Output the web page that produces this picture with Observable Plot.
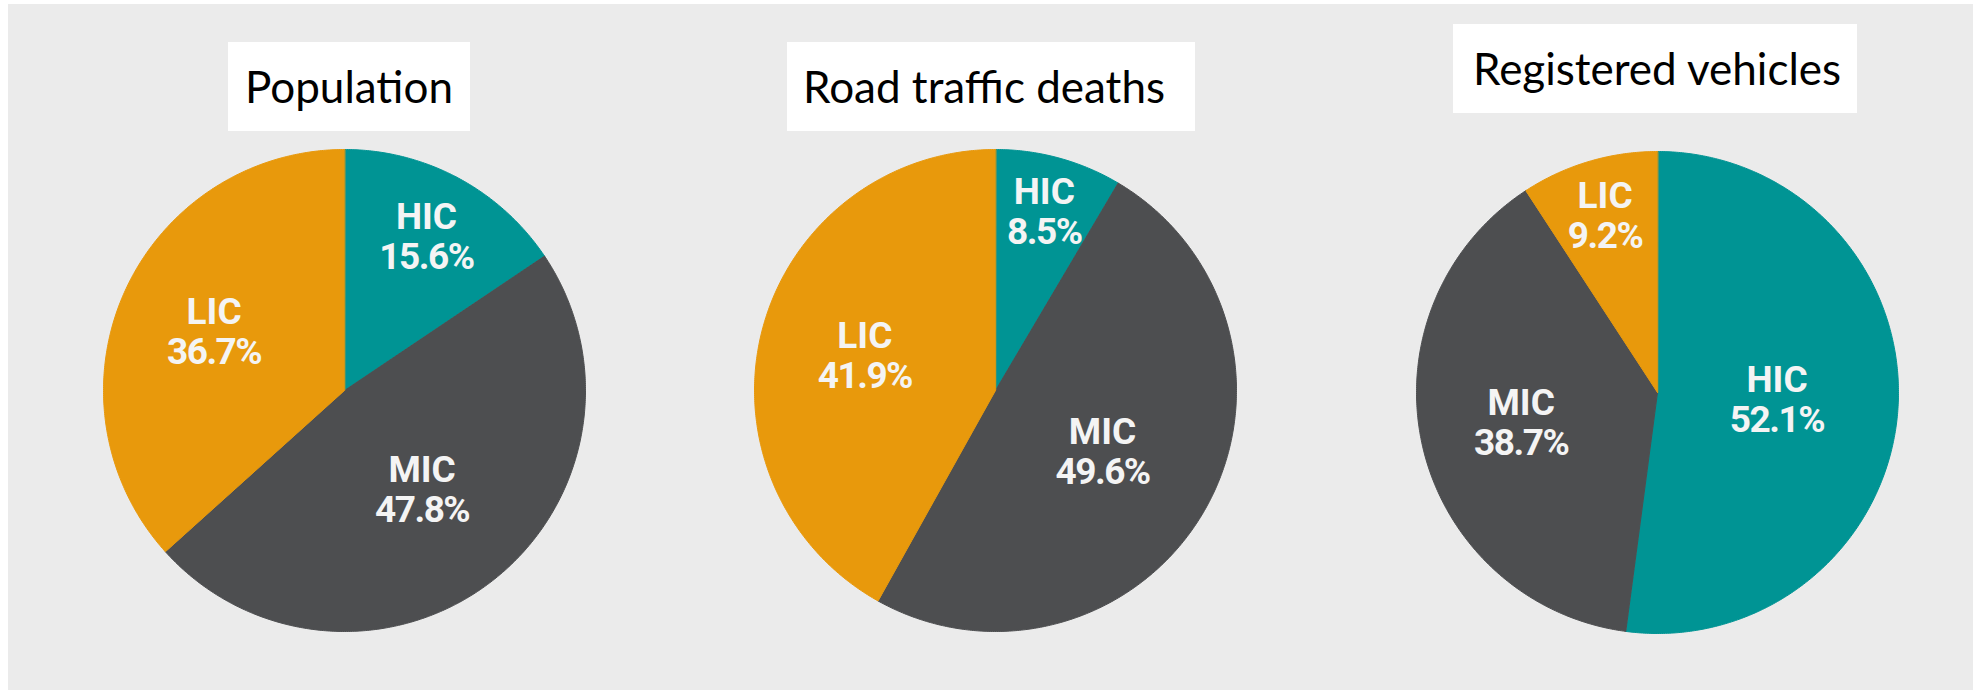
<!DOCTYPE html>
<html>
<head>
<meta charset="utf-8">
<script src="https://cdn.jsdelivr.net/npm/d3@7"></script>
<script src="https://cdn.jsdelivr.net/npm/@observablehq/plot@0.6"></script>
<style>
  html, body { margin: 0; padding: 0; background: #ffffff; }
  #stage { position: relative; width: 1981px; height: 690px; overflow: hidden; }
  #panel { position: absolute; left: 8px; top: 4px; width: 1965px; height: 690px; background: #ebebeb; }
  .title { position: absolute; background: #ffffff; color: #000000; font-family: Lato, "Open Sans", sans-serif;
           font-size: 44px; height: 89px; line-height: 89px; white-space: nowrap; box-sizing: border-box; }
  .pie { position: absolute; }
  .pie svg { overflow: visible; }
</style>
</head>
<body>
<div id="stage"><div id="panel"></div></div>
<script>
// ---- data ----
const chartTitles = ["Population", "Road traffic deaths", "Registered vehicles"];
const groups = ["HIC", "MIC", "LIC"];
const population = [15.6, 47.8, 36.7];
const roadDeaths = [8.5, 49.6, 41.9];
const vehicles = [52.1, 38.7, 9.2];
const seriesList = [population, roadDeaths, vehicles];

// ---- style / layout ----
const colors = ["#009494", "#4d4e50", "#e8990c"];
const layout = [
  {cx: 344, cy: 390, title: {left: 228, top: 42, width: 242, pad: 17}},
  {cx: 995, cy: 390, title: {left: 787, top: 42, width: 408, pad: 16}},
  {cx: 1657, cy: 392, title: {left: 1453, top: 24, width: 404, pad: 20}}
];
const R = 241, M = 9, SIZE = 2 * R + 2 * M;

function slicePoints(values) {
  const total = d3.sum(values);
  let acc = 0;
  const pts = [];
  values.forEach((v, i) => {
    const a0 = acc / total * 2 * Math.PI, a1 = (acc + v) / total * 2 * Math.PI;
    acc += v;
    pts.push({group: groups[i], x: 0, y: 0});
    const n = Math.max(2, Math.ceil((a1 - a0) / (Math.PI / 360)));
    for (let k = 0; k <= n; k++) {
      const a = a0 + (a1 - a0) * k / n;
      pts.push({group: groups[i], x: Math.sin(a), y: Math.cos(a)});
    }
  });
  return pts;
}

function labelPoints(values) {
  const total = d3.sum(values);
  let acc = 0;
  return values.map((v, i) => {
    const mid = (acc + v / 2) / total * 2 * Math.PI;
    acc += v;
    const rf = 0.82 - 0.0062 * v;
    return {x: rf * Math.sin(mid), y: rf * Math.cos(mid), name: groups[i], pct: v.toFixed(1) + "%"};
  });
}

const labelStyle = {fill: "#f4f4f4", fontSize: 37, fontWeight: 700, fontFamily: "Roboto"};

const stage = document.getElementById("stage");
seriesList.forEach((values, idx) => {
  const L = layout[idx];
  const t = document.createElement("div");
  t.className = "title";
  t.textContent = chartTitles[idx];
  t.style.left = L.title.left + "px";
  t.style.top = L.title.top + "px";
  t.style.width = L.title.width + "px";
  t.style.paddingLeft = L.title.pad + "px";
  stage.appendChild(t);

  const labels = labelPoints(values);
  const chart = Plot.plot({
    width: SIZE, height: SIZE, margin: M,
    x: {domain: [-1, 1], axis: null},
    y: {domain: [-1, 1], axis: null},
    color: {domain: groups, range: colors},
    style: {background: "transparent"},
    marks: [
      Plot.line(slicePoints(values), {x: "x", y: "y", z: "group", fill: "group", stroke: "group",
        strokeWidth: 1, curve: "linear-closed"}),
      Plot.text(labels, {x: "x", y: "y", text: "name", dy: -20, ...labelStyle}),
      Plot.text(labels, {x: "x", y: "y", text: "pct", dy: 20, letterSpacing: "-1px", ...labelStyle})
    ]
  });
  chart.querySelectorAll("text").forEach(el => {
    if (/%/.test(el.textContent)) el.setAttribute("letter-spacing", "-1.5");
  });
  const wrap = document.createElement("div");
  wrap.className = "pie";
  wrap.style.left = (L.cx - SIZE / 2) + "px";
  wrap.style.top = (L.cy - SIZE / 2) + "px";
  wrap.appendChild(chart);
  stage.appendChild(wrap);
});
</script>
</body>
</html>
